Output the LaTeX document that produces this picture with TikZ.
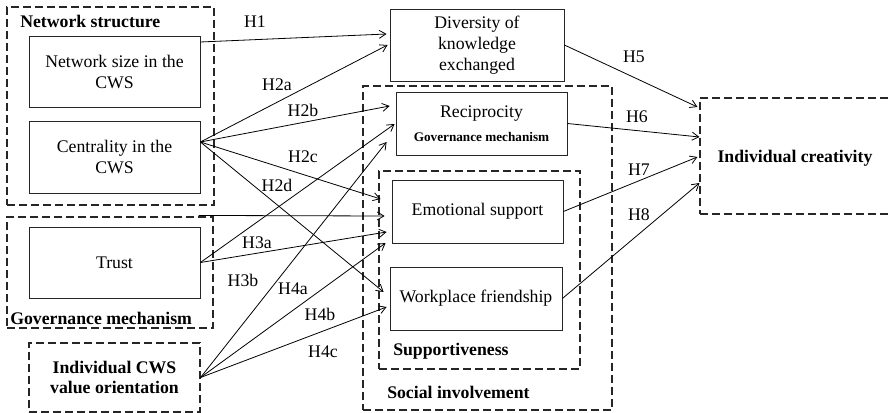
\documentclass[tikz,border=0pt]{standalone}
\usepackage{fontspec}
\setmainfont{Liberation Serif}
\usetikzlibrary{arrows.meta}
\newdimen\pxu
\pxu = 0.75pt
\tikzstyle{factorBox}=[shape = rectangle, draw = black!85, line width = 0.6pt, align = center, inner sep = 0pt]
\tikzstyle{groupBox}=[shape = rectangle, draw = black!85, line width = 0.8pt, dash pattern = on 6pt off 3pt, inner sep = 0pt, align = center]

\begin{document}
\begin{tikzpicture}[x = 0.75pt, y = -0.75pt, font = \fontsize{13.3}{15.75}\selectfont]
\tikzstyle{groupLabel}=[anchor = west, inner sep = 0pt, font = \fontsize{13.3}{15.75}\selectfont\bfseries]
\tikzstyle{hypLabel}=[inner sep = 0pt]
\tikzstyle{EdgeStyle}=[line width = 0.6pt, -{Straight Barb[length = 5pt, width = 6pt]}]
\useasboundingbox (0,0) rectangle (889,413);
\clip (0,0) rectangle (889,413);
\node[groupBox, minimum width = 207\pxu, minimum height = 198\pxu] (netStruct) at (110.5,106) {};
\node[groupLabel] (netStructLabel) at (20,21) {Network structure};
\node[factorBox, minimum width = 171\pxu, minimum height = 71\pxu] (netSize) at (114.5,71.5) {Network size in the\\CWS};
\node[factorBox, minimum width = 171\pxu, minimum height = 72\pxu] (central) at (114.5,157) {Centrality in the\\CWS};
\node[groupBox, minimum width = 206\pxu, minimum height = 111\pxu] (govMech) at (110,272.5) {};
\node[groupLabel] (govMechLabel) at (10,318) {Governance mechanism};
\node[factorBox, minimum width = 171\pxu, minimum height = 71\pxu] (trust) at (114.5,262.5) {Trust};
\node[groupBox, minimum width = 171\pxu, minimum height = 69\pxu, font = \fontsize{13.3}{15}\selectfont\bfseries] (valueOrient) at (114.5,377.5) {Individual CWS\\value orientation};
\node[factorBox, minimum width = 174\pxu, minimum height = 72\pxu] (diversity) at (477,45) {Diversity of\\knowledge\\exchanged};
\node[groupBox, minimum width = 249\pxu, minimum height = 324\pxu] (socInv) at (487.5,248) {};
\node[groupLabel] (socInvLabel) at (387,392) {Social involvement};
\node[factorBox, minimum width = 171\pxu, minimum height = 63\pxu] (recip) at (481.5,123.5) {Reciprocity\\[2pt]{\fontsize{9.9}{12}\selectfont\bfseries Governance mechanism}};
\node[groupBox, minimum width = 201\pxu, minimum height = 198\pxu] (support) at (479.5,270) {};
\node[groupLabel] (supportLabel) at (393,351) {Supportiveness};
\node[factorBox, minimum width = 171\pxu, minimum height = 63\pxu] (emoSup) at (477.5,211.5) {Emotional support};
\node[factorBox, minimum width = 172\pxu, minimum height = 63\pxu] (workFriend) at (476,298.5) {Workplace friendship};
\node[groupBox, minimum width = 210\pxu, minimum height = 116\pxu] (creat) at (805,156) {};
\node[groupLabel, anchor = center] (creatLabel) at (795,158) {Individual creativity};
\node[hypLabel] (hOne) at (255,22) {H1};
\node[hypLabel] (hTwoA) at (277,85) {H2a};
\node[hypLabel] (hTwoB) at (303,110) {H2b};
\node[hypLabel] (hTwoC) at (303,157) {H2c};
\node[hypLabel] (hTwoD) at (277,185) {H2d};
\node[hypLabel] (hThreeA) at (257,243) {H3a};
\node[hypLabel] (hThreeB) at (243,280) {H3b};
\node[hypLabel] (hFourA) at (293,289) {H4a};
\node[hypLabel] (hFourB) at (320,314) {H4b};
\node[hypLabel] (hFourC) at (323,352) {H4c};
\node[hypLabel] (hFive) at (634,57) {H5};
\node[hypLabel] (hSix) at (637,117) {H6};
\node[hypLabel] (hSeven) at (639,170) {H7};
\node[hypLabel] (hEight) at (639,215) {H8};
\draw[EdgeStyle] ([shift = {(0,-29.5)}]netSize.east) -- ([shift = {(-3,-11)}]diversity.west);
\draw[EdgeStyle] ([shift = {(0,-15)}]central.east) -- ([shift = {(-2,0)}]diversity.west);
\draw[EdgeStyle] ([shift = {(0,-15)}]central.east) -- ([shift = {(-6,-17.5)}]recip.west);
\draw[EdgeStyle] ([shift = {(0,-15)}]central.east) -- ([shift = {(-11,-12.5)}]emoSup.west);
\draw[EdgeStyle] ([shift = {(0,-15)}]central.east) -- ([shift = {(-6,-6.5)}]workFriend.west);
\draw[EdgeStyle] ([shift = {(-15,-1)}]govMech.north east) -- ([shift = {(-7,4.5)}]emoSup.west);
\draw[EdgeStyle] (trust.east) -- ([shift = {(-5,20.5)}]emoSup.west);
\draw[EdgeStyle] (trust.east) -- ([shift = {(-1,0.5)}]recip.west);
\draw[EdgeStyle] (valueOrient.east) -- ([shift = {(-9,18.5)}]recip.west);
\draw[EdgeStyle] (valueOrient.east) -- ([shift = {(-6,31.5)}]emoSup.west);
\draw[EdgeStyle] (valueOrient.east) -- ([shift = {(-3,8.5)}]workFriend.west);
\draw[EdgeStyle] (diversity.east) -- ([shift = {(-2,-49)}]creat.west);
\draw[EdgeStyle] (recip.east) -- ([shift = {(0,-19)}]creat.west);
\draw[EdgeStyle] (emoSup.east) -- ([shift = {(-2,1)}]creat.west);
\draw[EdgeStyle] (workFriend.east) -- ([shift = {(0,27)}]creat.west);
\end{tikzpicture}
\end{document}
